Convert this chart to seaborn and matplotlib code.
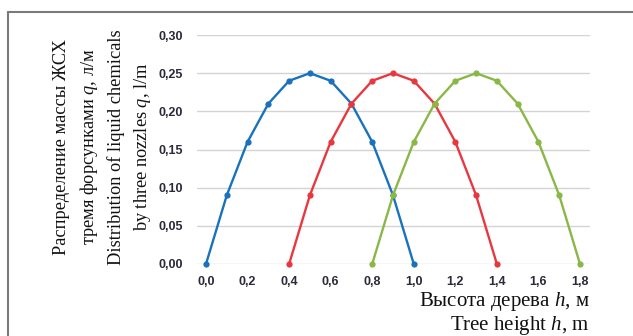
import matplotlib
matplotlib.use("Agg")
import matplotlib.pyplot as plt
import seaborn as sns
import pandas as pd
from matplotlib.lines import Line2D

# Data
x_blue = [0.0, 0.1, 0.2, 0.3, 0.4, 0.5, 0.6, 0.7, 0.8, 0.9, 1.0]
x_red = [0.4, 0.5, 0.6, 0.7, 0.8, 0.9, 1.0, 1.1, 1.2, 1.3, 1.4]
x_green = [0.8, 0.9, 1.0, 1.1, 1.2, 1.3, 1.4, 1.5, 1.6, 1.7, 1.8]
q_blue = [0.0, 0.09, 0.16, 0.21, 0.24, 0.25, 0.24, 0.21, 0.16, 0.09, 0.0]
q_red = [0.0, 0.09, 0.16, 0.21, 0.24, 0.25, 0.24, 0.21, 0.16, 0.09, 0.0]
q_green = [0.0, 0.09, 0.16, 0.21, 0.24, 0.25, 0.24, 0.21, 0.16, 0.09, 0.0]
x_ticks = [0.0, 0.2, 0.4, 0.6, 0.8, 1.0, 1.2, 1.4, 1.6, 1.8]
y_ticks = [0.00, 0.05, 0.10, 0.15, 0.20, 0.25, 0.30]

sns.set_theme(style="white")
plt.rcParams['mathtext.fontset'] = 'custom'
plt.rcParams['mathtext.it'] = 'Liberation Serif:italic'
plt.rcParams['mathtext.rm'] = 'Liberation Serif'

df = pd.concat([
    pd.DataFrame({"h": x_blue, "q": q_blue, "s": "1"}),
    pd.DataFrame({"h": x_red, "q": q_red, "s": "2"}),
    pd.DataFrame({"h": x_green, "q": q_green, "s": "3"}),
])
palette = {"1": "#1a72bd", "2": "#e8383f", "3": "#8ab846"}

fig = plt.figure(figsize=(6.33, 3.36), dpi=100)
ax = fig.add_axes([197/633, (336-264)/336, (590-197)/633, (264-35)/336])

for yv in y_ticks:
    ax.axhline(yv, color="#d4d4d4", lw=1.0, zorder=0)

sns.lineplot(data=df, x="h", y="q", hue="s", palette=palette, ax=ax,
             marker="o", markersize=4.5, markeredgewidth=0, linewidth=1.7,
             legend=False, clip_on=False, zorder=3)

ax.set_xlim(-9/207.8, 1.8 + 10/207.8)
ax.set_ylim(0, 0.30)
for s in ax.spines.values():
    s.set_visible(False)
ax.set_xticks(x_ticks)
ax.set_yticks(y_ticks)
ax.set_xticklabels([f"{v:.1f}".replace(".", ",") for v in x_ticks])
ax.set_yticklabels([f"{v:.2f}".replace(".", ",") for v in y_ticks])
ax.tick_params(axis="both", length=0, labelsize=9, labelcolor="#2a2a3a")
ax.tick_params(axis="y", pad=10)
ax.tick_params(axis="x", pad=8.5)
for lab in ax.get_xticklabels() + ax.get_yticklabels():
    lab.set_fontfamily("Liberation Sans")
    lab.set_fontweight("bold")
ax.set_xlabel("")
ax.set_ylabel("")

fig.text(103/633, 1 - 147/336,
         "Распределение массы ЖСХ\nтремя форсунками $q$, л/м\nDistribution of liquid chemicals\nby three nozzles $q$, l/m",
         rotation=90, ha="center", va="center", fontsize=13.2,
         family="Liberation Serif", color="#111111", linespacing=1.5)
fig.text(590/633, 1 - 330/336,
         "Высота дерева $h$, м\nTree height $h$, m",
         ha="right", va="baseline", fontsize=15,
         family="Liberation Serif", color="#111111", linespacing=1.05,
         multialignment="right")

fig.add_artist(Line2D([8/633, 8/633], [0, 1 - 12/336], transform=fig.transFigure, color="#7a7a7a", lw=1.5))
fig.add_artist(Line2D([8/633, 1], [1 - 12/336, 1 - 12/336], transform=fig.transFigure, color="#7a7a7a", lw=1.5))

fig.savefig("out.png", dpi=100)
